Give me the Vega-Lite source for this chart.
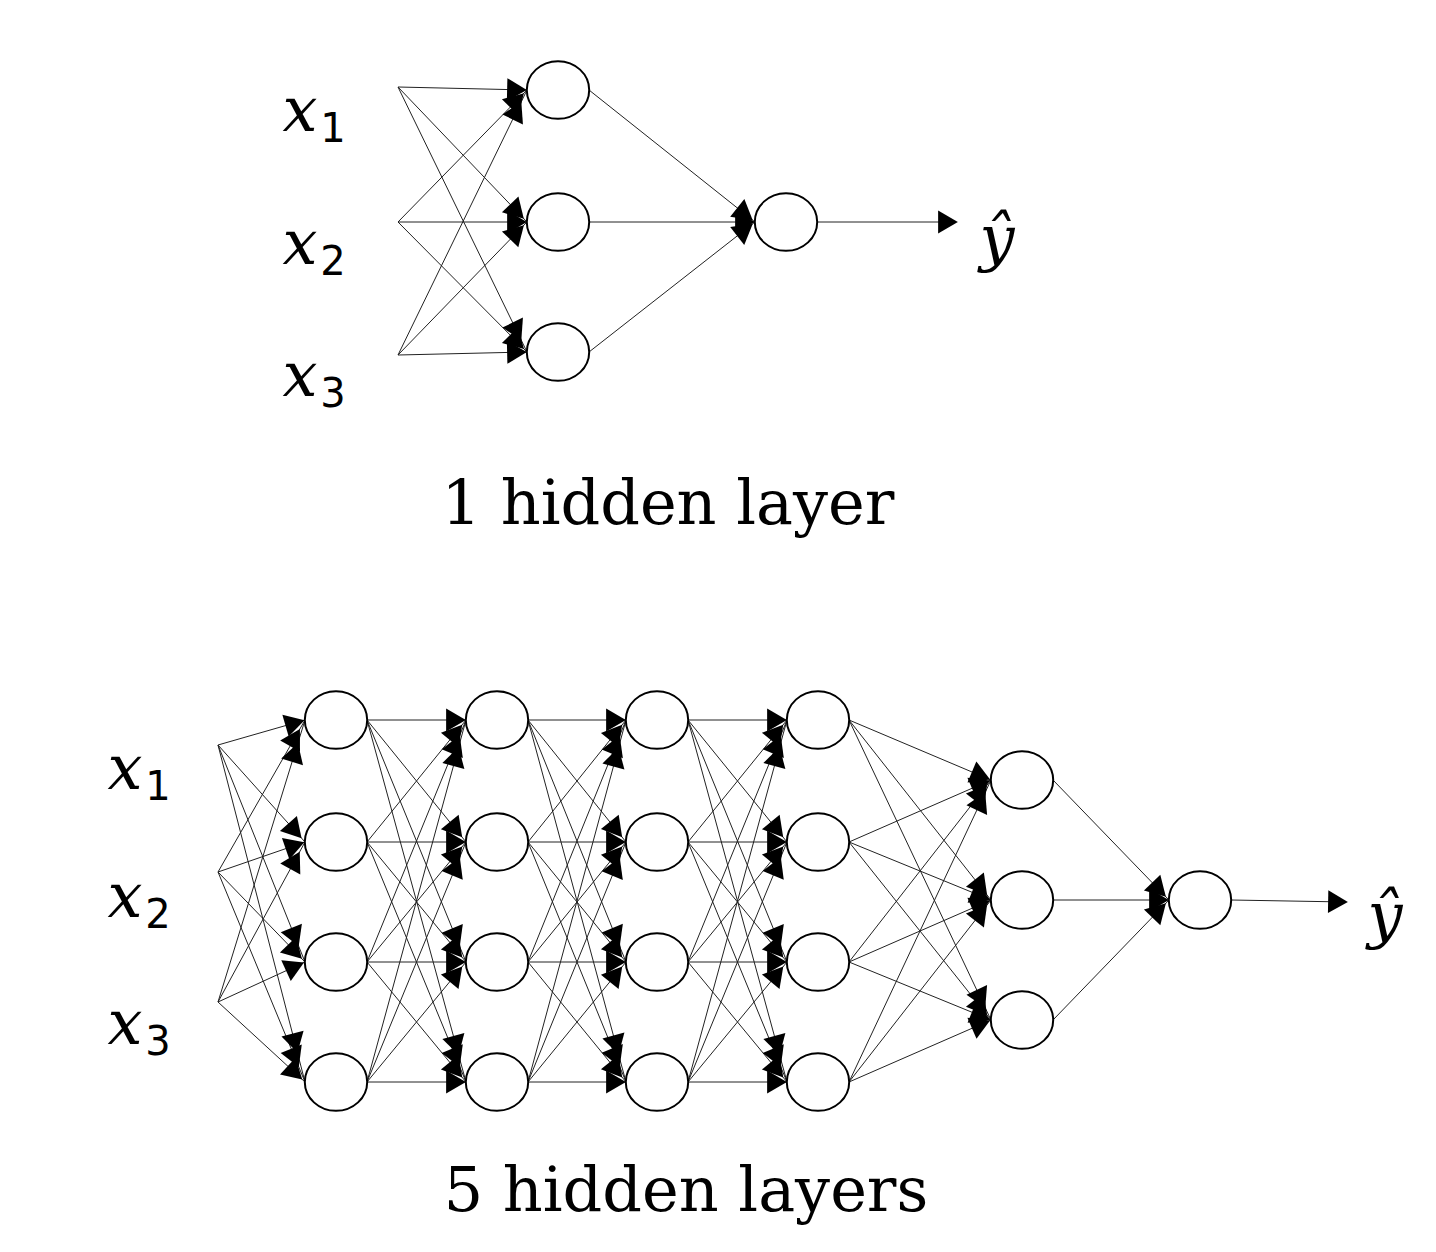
{
  "$schema": "https://vega.github.io/schema/vega-lite/v6.json",
  "width": 1436,
  "height": 1252,
  "autosize": {"type": "none"},
  "padding": 0,
  "background": "white",
  "config": {"view": {"stroke": null}},
  "datasets": {
    "nodes": [
      {"id": "ta0", "x": 398, "y": 87, "type": "input"},
      {"id": "ta1", "x": 398, "y": 222, "type": "input"},
      {"id": "ta2", "x": 398, "y": 355, "type": "input"},
      {"id": "th0", "x": 558, "y": 90, "type": "node"},
      {"id": "th1", "x": 558, "y": 222, "type": "node"},
      {"id": "th2", "x": 558, "y": 352, "type": "node"},
      {"id": "to", "x": 786, "y": 222, "type": "node"},
      {"id": "te", "x": 956, "y": 222, "type": "end"},
      {"id": "ba0", "x": 218, "y": 745, "type": "input"},
      {"id": "ba1", "x": 218, "y": 872, "type": "input"},
      {"id": "ba2", "x": 218, "y": 1002, "type": "input"},
      {"id": "b10", "x": 336, "y": 720, "type": "node"},
      {"id": "b11", "x": 336, "y": 842, "type": "node"},
      {"id": "b12", "x": 336, "y": 962, "type": "node"},
      {"id": "b13", "x": 336, "y": 1082, "type": "node"},
      {"id": "b20", "x": 497, "y": 720, "type": "node"},
      {"id": "b21", "x": 497, "y": 842, "type": "node"},
      {"id": "b22", "x": 497, "y": 962, "type": "node"},
      {"id": "b23", "x": 497, "y": 1082, "type": "node"},
      {"id": "b30", "x": 657, "y": 720, "type": "node"},
      {"id": "b31", "x": 657, "y": 842, "type": "node"},
      {"id": "b32", "x": 657, "y": 962, "type": "node"},
      {"id": "b33", "x": 657, "y": 1082, "type": "node"},
      {"id": "b40", "x": 818, "y": 720, "type": "node"},
      {"id": "b41", "x": 818, "y": 842, "type": "node"},
      {"id": "b42", "x": 818, "y": 962, "type": "node"},
      {"id": "b43", "x": 818, "y": 1082, "type": "node"},
      {"id": "b50", "x": 1022, "y": 780, "type": "node"},
      {"id": "b51", "x": 1022, "y": 900, "type": "node"},
      {"id": "b52", "x": 1022, "y": 1020, "type": "node"},
      {"id": "bo", "x": 1200, "y": 900, "type": "node"},
      {"id": "be", "x": 1346, "y": 902, "type": "end"}
    ],
    "edges": [
      {"from": "ta0", "to": ["th0", "th1", "th2"]},
      {"from": "ta1", "to": ["th0", "th1", "th2"]},
      {"from": "ta2", "to": ["th0", "th1", "th2"]},
      {"from": "th0", "to": ["to"]},
      {"from": "th1", "to": ["to"]},
      {"from": "th2", "to": ["to"]},
      {"from": "to", "to": ["te"]},
      {"from": "ba0", "to": ["b10", "b11", "b12", "b13"]},
      {"from": "ba1", "to": ["b10", "b11", "b12", "b13"]},
      {"from": "ba2", "to": ["b10", "b11", "b12", "b13"]},
      {"from": "b10", "to": ["b20", "b21", "b22", "b23"]},
      {"from": "b11", "to": ["b20", "b21", "b22", "b23"]},
      {"from": "b12", "to": ["b20", "b21", "b22", "b23"]},
      {"from": "b13", "to": ["b20", "b21", "b22", "b23"]},
      {"from": "b20", "to": ["b30", "b31", "b32", "b33"]},
      {"from": "b21", "to": ["b30", "b31", "b32", "b33"]},
      {"from": "b22", "to": ["b30", "b31", "b32", "b33"]},
      {"from": "b23", "to": ["b30", "b31", "b32", "b33"]},
      {"from": "b30", "to": ["b40", "b41", "b42", "b43"]},
      {"from": "b31", "to": ["b40", "b41", "b42", "b43"]},
      {"from": "b32", "to": ["b40", "b41", "b42", "b43"]},
      {"from": "b33", "to": ["b40", "b41", "b42", "b43"]},
      {"from": "b40", "to": ["b50", "b51", "b52"]},
      {"from": "b41", "to": ["b50", "b51", "b52"]},
      {"from": "b42", "to": ["b50", "b51", "b52"]},
      {"from": "b43", "to": ["b50", "b51", "b52"]},
      {"from": "b50", "to": ["bo"]},
      {"from": "b51", "to": ["bo"]},
      {"from": "b52", "to": ["bo"]},
      {"from": "bo", "to": ["be"]}
    ],
    "labels": [
      {"t": "x", "x": 300, "y": 112, "k": "math"},
      {"t": "1", "x": 333, "y": 130, "k": "sub"},
      {"t": "x", "x": 300, "y": 245, "k": "math"},
      {"t": "2", "x": 333, "y": 263, "k": "sub"},
      {"t": "x", "x": 300, "y": 377, "k": "math"},
      {"t": "3", "x": 333, "y": 395, "k": "sub"},
      {"t": "ŷ", "x": 997, "y": 240, "k": "math"},
      {"t": "1 hidden layer", "x": 668, "y": 505, "k": "title"},
      {"t": "x", "x": 125, "y": 770, "k": "math"},
      {"t": "1", "x": 158, "y": 788, "k": "sub"},
      {"t": "x", "x": 125, "y": 898, "k": "math"},
      {"t": "2", "x": 158, "y": 916, "k": "sub"},
      {"t": "x", "x": 125, "y": 1025, "k": "math"},
      {"t": "3", "x": 158, "y": 1043, "k": "sub"},
      {"t": "ŷ", "x": 1385, "y": 917, "k": "math"},
      {"t": "5 hidden layers", "x": 686, "y": 1192, "k": "title"}
    ]
  },
  "encoding": {},
  "layer": [
    {
      "data": {"name": "edges"},
      "transform": [
        {"flatten": ["to"]},
        {"lookup": "from", "from": {"data": {"name": "nodes"}, "key": "id", "fields": ["x", "y", "type"]}, "as": ["sx", "sy", "st"]},
        {"lookup": "to", "from": {"data": {"name": "nodes"}, "key": "id", "fields": ["x", "y", "type"]}, "as": ["tx", "ty", "tt"]},
        {"calculate": "datum.sx + (datum.st == 'node' ? 31 : 0)", "as": "x1"},
        {"calculate": "datum.tx - (datum.tt == 'node' ? 31 : 0)", "as": "x2"},
        {"calculate": "datum.x2 - (datum.tt == 'node' ? 10 : 8)", "as": "ax"},
        {"calculate": "atan2(datum.ty - datum.sy, datum.x2 - datum.x1) * 180 / PI", "as": "ang"},
        {"calculate": "datum.ty - (datum.ty - datum.sy) / (datum.x2 - datum.x1) * (datum.tt == 'node' ? 10 : 8)", "as": "ay"}
      ],
      "layer": [
        {
          "mark": {"type": "rule", "color": "#222", "strokeWidth": 1},
          "encoding": {
            "x": {"field": "x1", "type": "quantitative", "scale": {"domain": [0, 1436], "nice": false, "zero": false}, "axis": null},
            "y": {"field": "sy", "type": "quantitative", "scale": {"domain": [0, 1252], "reverse": true, "nice": false, "zero": false}, "axis": null},
            "x2": {"field": "x2"},
            "y2": {"field": "ty"}
          }
        },
        {
          "mark": {"type": "point", "shape": "triangle-right", "filled": true, "color": "black", "size": 520, "opacity": 1},
          "encoding": {
            "x": {"field": "ax", "type": "quantitative"},
            "y": {"field": "ay", "type": "quantitative"},
            "angle": {"field": "ang", "type": "quantitative", "scale": null}
          }
        }
      ]
    },
    {
      "data": {"name": "nodes"},
      "transform": [{"filter": "datum.type == 'node'"}],
      "mark": {"type": "point", "shape": "M-1.04,0A1.04,0.96,0,1,0,1.04,0A1.04,0.96,0,1,0,-1.04,0Z", "filled": true, "fill": "white", "stroke": "black", "strokeWidth": 2, "size": 3600, "opacity": 1},
      "encoding": {
        "x": {"field": "x", "type": "quantitative"},
        "y": {"field": "y", "type": "quantitative"}
      }
    },
    {
      "data": {"name": "labels"},
      "transform": [{"filter": "datum.k == 'math'"}],
      "mark": {"type": "text", "font": "DejaVu Serif", "fontStyle": "italic", "fontSize": 62, "align": "center", "baseline": "middle", "color": "black"},
      "encoding": {
        "x": {"field": "x", "type": "quantitative"},
        "y": {"field": "y", "type": "quantitative"},
        "text": {"field": "t"}
      }
    },
    {
      "data": {"name": "labels"},
      "transform": [{"filter": "datum.k == 'sub'"}],
      "mark": {"type": "text", "font": "DejaVu Sans", "fontSize": 40, "align": "center", "baseline": "middle", "color": "black"},
      "encoding": {
        "x": {"field": "x", "type": "quantitative"},
        "y": {"field": "y", "type": "quantitative"},
        "text": {"field": "t"}
      }
    },
    {
      "data": {"name": "labels"},
      "transform": [{"filter": "datum.k == 'title'"}],
      "mark": {"type": "text", "font": "DejaVu Serif", "fontSize": 62, "align": "center", "baseline": "middle", "color": "black"},
      "encoding": {
        "x": {"field": "x", "type": "quantitative"},
        "y": {"field": "y", "type": "quantitative"},
        "text": {"field": "t"}
      }
    }
  ]
}
